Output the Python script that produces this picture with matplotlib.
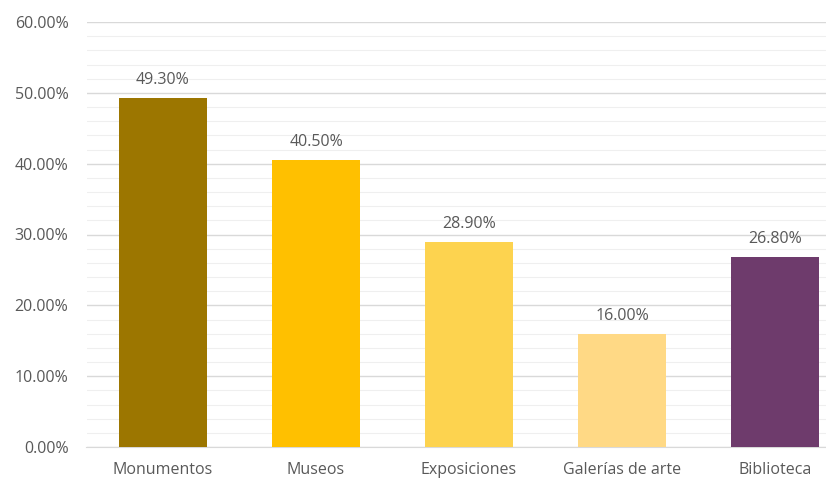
import matplotlib.pyplot as plt
from matplotlib.ticker import MultipleLocator, FuncFormatter

categorias = ["Monumentos", "Museos", "Exposiciones", "Galerías de arte", "Biblioteca"]
porcentajes = [0.493, 0.405, 0.289, 0.160, 0.268]
colores = ["#9C7600", "#FFC000", "#FDD34F", "#FFD985", "#6E3B6C"]

plt.rcParams['font.family'] = ['Open Sans', 'DejaVu Sans']
gris = "#595959"
tam = 11.5

fig = plt.figure(figsize=(8.26, 4.82), dpi=100)
ax = fig.add_axes([86.5 / 826, 35 / 482, (826 - 86.5) / 826, 425 / 482])

x = list(range(len(categorias)))
barras = ax.bar(x, porcentajes, width=0.575, color=colores, zorder=3)

# etiqueta de valor encima de cada barra
for b, v in zip(barras, porcentajes):
    ax.text(b.get_x() + b.get_width() / 2, v + 0.014, f"{v * 100:.2f}%",
            ha="center", va="bottom", fontsize=tam, color=gris)

ax.set_xlim(-0.5, 4.5 - 25.5 / 153)
ax.set_ylim(0, 0.6)
ax.set_xticks(x)
ax.set_xticklabels(categorias, fontsize=tam, color=gris)
ax.yaxis.set_major_locator(MultipleLocator(0.1))
ax.yaxis.set_minor_locator(MultipleLocator(0.02))
ax.yaxis.set_major_formatter(FuncFormatter(lambda v, p: f"{v * 100:.2f}%"))
ax.tick_params(axis="y", labelsize=tam, labelcolor=gris, length=0, pad=13)
ax.tick_params(axis="y", which="minor", length=0)
ax.tick_params(axis="x", length=0, pad=11)

ax.grid(axis="y", which="major", color="#D9D9D9", linewidth=1, zorder=0)
ax.grid(axis="y", which="minor", color="#EFEFEF", linewidth=0.8, zorder=0)
for s in ["top", "right", "left"]:
    ax.spines[s].set_visible(False)
ax.spines["bottom"].set_color("#D9D9D9")

fig.savefig("out.png", dpi=100)
